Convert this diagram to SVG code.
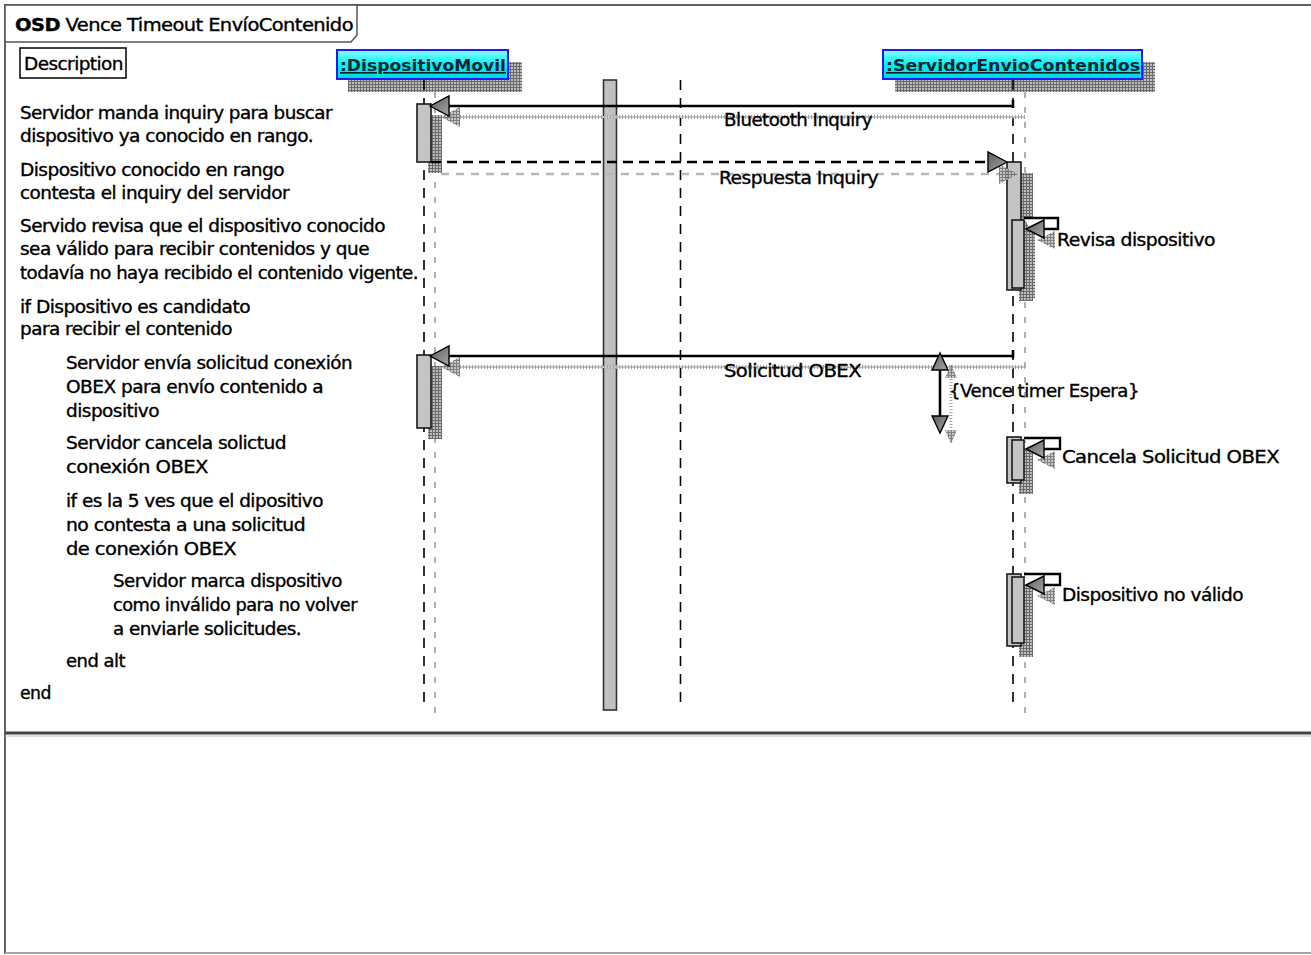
<svg xmlns="http://www.w3.org/2000/svg" width="1311" height="955" viewBox="0 0 1311 955">
  <defs>
    <pattern id="hatch" width="3" height="3" patternUnits="userSpaceOnUse">
      <rect width="3" height="3" fill="#bdbdbd"/>
      <path d="M0 0.5H3M0.5 0V3" stroke="#6a6a6a" stroke-width="1"/>
    </pattern>
    <linearGradient id="cyanFill" x1="0" y1="0" x2="0" y2="1">
      <stop offset="0" stop-color="#8ffcff"/>
      <stop offset="0.5" stop-color="#00f2f2"/>
      <stop offset="1" stop-color="#00d8d8"/>
    </linearGradient>
    <linearGradient id="headFill" x1="0" y1="0" x2="1" y2="1">
      <stop offset="0" stop-color="#5a5a5a"/>
      <stop offset="1" stop-color="#a8a8a8"/>
    </linearGradient>
  </defs>
  <style>
    text { font-family: "DejaVu Sans", "Liberation Sans", sans-serif; font-size: 17px; fill: #000; stroke: #000; stroke-width: 0.35; letter-spacing: -0.5px; }
    .hdr { font-weight: bold; text-decoration: underline; fill: #0b2233; stroke: none; letter-spacing: 0; font-size: 16px; }
    .life { stroke: #000; stroke-width: 1.6; stroke-dasharray: 10 8; fill: none; }
    .lifeSh { stroke: #b0b0b0; stroke-width: 2; stroke-dasharray: 6 9; fill: none; }
    .act { fill: #c4c4c4; stroke: #1a1a1a; stroke-width: 1.6; }
    .sh { fill: url(#hatch); stroke: none; }
    .msg { stroke: #000; stroke-width: 2.6; fill: none; }
    .msgDash { stroke: #000; stroke-width: 2.6; stroke-dasharray: 10 6; fill: none; }
    .msgSh { stroke: #a4a4a4; stroke-width: 4; stroke-dasharray: 1 2; fill: none; }
    .msgShBase { stroke: #c8c8c8; stroke-width: 2; fill: none; }
    .msgShDash { stroke: #b8b8b8; stroke-width: 2.5; stroke-dasharray: 8 7; fill: none; }
    .head { fill: url(#headFill); stroke: #000; stroke-width: 1.4; stroke-linejoin: miter; }
    .headSh { fill: url(#hatch); stroke: none; opacity: 0.85; }
    .loop { stroke: #000; stroke-width: 2.4; fill: #fff; }
  </style>

  <!-- outer frame and section divider -->
  <g id="frame">
    <rect x="5" y="5" width="1310" height="948" fill="#fff" stroke="#3a3a3a" stroke-width="1.6"/>
    <line x1="5" y1="733" x2="1311" y2="733" stroke="#444" stroke-width="3"/>
    <line x1="5" y1="736" x2="1311" y2="736" stroke="#bbb" stroke-width="1"/>
    <line x1="5" y1="953" x2="1311" y2="953" stroke="#bbb" stroke-width="1.5"/>
  </g>

  <!-- diagram title tab -->
  <g id="title">
    <path d="M5 5H357V35L351 42H5Z" fill="#fff" stroke="#555" stroke-width="1.5"/>
    <text x="15" y="31" textLength="338" lengthAdjust="spacingAndGlyphs"><tspan font-weight="bold">OSD</tspan> Vence Timeout EnvíoContenido</text>
  </g>

  <g id="description">
    <rect x="20" y="48" width="106" height="30" fill="#fff" stroke="#111" stroke-width="1.6"/>
    <text x="24" y="70" textLength="99" lengthAdjust="spacingAndGlyphs">Description</text>
  </g>

  <!-- left-hand step descriptions -->
  <g id="steps">
    <text x="20" y="119" textLength="312" lengthAdjust="spacingAndGlyphs">Servidor manda inquiry para buscar</text>
    <text x="20" y="142" textLength="293" lengthAdjust="spacingAndGlyphs">dispositivo ya conocido en rango.</text>
    <text x="20" y="176" textLength="264" lengthAdjust="spacingAndGlyphs">Dispositivo conocido en rango</text>
    <text x="20" y="199" textLength="269" lengthAdjust="spacingAndGlyphs">contesta el inquiry del servidor</text>
    <text x="20" y="232" textLength="365" lengthAdjust="spacingAndGlyphs">Servido revisa que el dispositivo conocido</text>
    <text x="20" y="255" textLength="349" lengthAdjust="spacingAndGlyphs">sea válido para recibir contenidos y que</text>
    <text x="20" y="279" textLength="398" lengthAdjust="spacingAndGlyphs">todavía no haya recibido el contenido vigente.</text>
    <text x="20" y="313" textLength="230" lengthAdjust="spacingAndGlyphs">if Dispositivo es candidato</text>
    <text x="20" y="335" textLength="212" lengthAdjust="spacingAndGlyphs">para recibir el contenido</text>
    <text x="66" y="369" textLength="286" lengthAdjust="spacingAndGlyphs">Servidor envía solicitud conexión</text>
    <text x="66" y="393" textLength="257" lengthAdjust="spacingAndGlyphs">OBEX para envío contenido a</text>
    <text x="66" y="417" textLength="93" lengthAdjust="spacingAndGlyphs">dispositivo</text>
    <text x="66" y="449" textLength="220" lengthAdjust="spacingAndGlyphs">Servidor cancela solictud</text>
    <text x="66" y="473" textLength="142" lengthAdjust="spacingAndGlyphs">conexión OBEX</text>
    <text x="66" y="507" textLength="257" lengthAdjust="spacingAndGlyphs">if es la 5 ves que el dipositivo</text>
    <text x="66" y="531" textLength="239" lengthAdjust="spacingAndGlyphs">no contesta a una solicitud</text>
    <text x="66" y="555" textLength="170" lengthAdjust="spacingAndGlyphs">de conexión OBEX</text>
    <text x="113" y="587" textLength="229" lengthAdjust="spacingAndGlyphs">Servidor marca dispositivo</text>
    <text x="113" y="611" textLength="244" lengthAdjust="spacingAndGlyphs">como inválido para no volver</text>
    <text x="113" y="635" textLength="188" lengthAdjust="spacingAndGlyphs">a enviarle solicitudes.</text>
    <text x="66" y="667" textLength="59" lengthAdjust="spacingAndGlyphs">end alt</text>
    <text x="20" y="699" textLength="31" lengthAdjust="spacingAndGlyphs">end</text>
  </g>

  <!-- separator bar and guide line -->
  <g id="separator">
    <rect x="603.5" y="80" width="13" height="630" fill="#c0c0c0" stroke="#333" stroke-width="1.6"/>
    <line x1="680.5" y1="80" x2="680.5" y2="705" class="life"/>
  </g>

  <!-- lifeline: DispositivoMovil -->
  <g id="DispositivoMovil">
    <rect x="348" y="62" width="174" height="30" class="sh"/>
    <line x1="435" y1="92" x2="435" y2="715" class="lifeSh"/>
    <line x1="424" y1="80" x2="424" y2="705" class="life"/>
    <rect x="337" y="50" width="171" height="29" fill="url(#cyanFill)" stroke="#1a1aff" stroke-width="2"/>
    <text x="340" y="71" class="hdr" textLength="166" lengthAdjust="spacingAndGlyphs">:DispositivoMovil</text>
    <!-- activations -->
    <rect x="428" y="115" width="14" height="58" class="sh"/>
    <rect x="417" y="104" width="14" height="58" class="act"/>
    <rect x="428" y="366" width="14" height="73" class="sh"/>
    <rect x="417" y="355" width="14" height="73" class="act"/>
  </g>

  <!-- lifeline: ServidorEnvioContenidos -->
  <g id="ServidorEnvioContenidos">
    <rect x="895" y="62" width="260" height="30" class="sh"/>
    <line x1="1025" y1="92" x2="1025" y2="715" class="lifeSh"/>
    <line x1="1013" y1="80" x2="1013" y2="705" class="life"/>
    <rect x="883" y="50" width="259" height="29" fill="url(#cyanFill)" stroke="#1a1aff" stroke-width="2"/>
    <text x="886" y="71" class="hdr" textLength="254" lengthAdjust="spacingAndGlyphs">:ServidorEnvioContenidos</text>
    <!-- activation for Respuesta / Revisa -->
    <rect x="1019" y="173" width="14" height="128" class="sh"/>
    <rect x="1007" y="162" width="14" height="128" class="act"/>
    <rect x="1023" y="230" width="12" height="68" class="sh"/>
    <rect x="1012" y="220" width="12" height="68" class="act"/>
    <!-- activation for Cancela -->
    <rect x="1019" y="448" width="14" height="46" class="sh"/>
    <rect x="1007" y="437" width="14" height="46" class="act"/>
    <rect x="1012" y="440" width="12" height="40" class="act"/>
    <!-- activation for Dispositivo no valido -->
    <rect x="1019" y="585" width="14" height="72" class="sh"/>
    <rect x="1007" y="574" width="14" height="72" class="act"/>
    <rect x="1012" y="577" width="12" height="66" class="act"/>
  </g>

  <!-- messages -->
  <g id="connectors">
    <!-- Bluetooth Inquiry -->
    <line x1="445" y1="117" x2="1025" y2="117" class="msgShBase"/>
    <line x1="445" y1="117" x2="1025" y2="117" class="msgSh"/>
    <path d="M441 117L460 107V127Z" class="headSh"/>
    <line x1="440" y1="106" x2="1013" y2="106" class="msg"/>
    <line x1="1013" y1="100" x2="1013" y2="108" class="msg" stroke-width="2"/>
    <path d="M430 106L449 96V116Z" class="head"/>
    <text x="724" y="126" textLength="148" lengthAdjust="spacingAndGlyphs">Bluetooth Inquiry</text>

    <!-- Respuesta Inquiry -->
    <line x1="441" y1="174" x2="1015" y2="174" class="msgShDash"/>
    <path d="M1018 174L999 164V184Z" class="headSh"/>
    <line x1="431" y1="162" x2="995" y2="162" class="msgDash"/>
    <path d="M1007 162L988 152V172Z" class="head"/>
    <text x="719" y="184" textLength="159" lengthAdjust="spacingAndGlyphs">Respuesta Inquiry</text>

    <!-- Revisa dispositivo (self) -->
    <path d="M1037 240L1055 231V249Z" class="headSh"/>
    <path d="M1024 218H1058V229H1030" class="loop"/>
    <path d="M1026 229L1044 220V238Z" class="head"/>
    <text x="1057" y="246" textLength="158" lengthAdjust="spacingAndGlyphs">Revisa dispositivo</text>

    <!-- Solicitud OBEX -->
    <line x1="445" y1="367" x2="1025" y2="367" class="msgShBase"/>
    <line x1="445" y1="367" x2="1025" y2="367" class="msgSh"/>
    <path d="M441 367L460 357V377Z" class="headSh"/>
    <line x1="440" y1="356" x2="1013" y2="356" class="msg"/>
    <line x1="1013" y1="350" x2="1013" y2="358" class="msg" stroke-width="2"/>
    <path d="M430 356L449 346V366Z" class="head"/>
    <text x="724" y="377" textLength="137" lengthAdjust="spacingAndGlyphs">Solicitud OBEX</text>

    <!-- timer constraint -->
    <line x1="951" y1="370" x2="951" y2="440" stroke="#a8a8a8" stroke-width="3" stroke-dasharray="1 2"/>
    <path d="M951 364L945 378H957Z M951 444L945 430H957Z" class="headSh"/>
    <line x1="940" y1="366" x2="940" y2="420" stroke="#000" stroke-width="2.6"/>
    <path d="M940 353L932 370H948Z" class="head"/>
    <path d="M940 433L932 416H948Z" class="head"/>
    <text x="949" y="397" textLength="190" lengthAdjust="spacingAndGlyphs">{Vence timer Espera}</text>

    <!-- Cancela Solicitud OBEX (self) -->
    <path d="M1037 460L1055 451V469Z" class="headSh"/>
    <path d="M1024 438H1060V449H1030" class="loop"/>
    <path d="M1026 449L1044 440V458Z" class="head"/>
    <text x="1062" y="463" textLength="217" lengthAdjust="spacingAndGlyphs">Cancela Solicitud OBEX</text>

    <!-- Dispositivo no valido (self) -->
    <path d="M1037 596L1055 587V605Z" class="headSh"/>
    <path d="M1024 574H1060V585H1030" class="loop"/>
    <path d="M1026 585L1044 576V594Z" class="head"/>
    <text x="1062" y="601" textLength="181" lengthAdjust="spacingAndGlyphs">Dispositivo no válido</text>
  </g>
</svg>
